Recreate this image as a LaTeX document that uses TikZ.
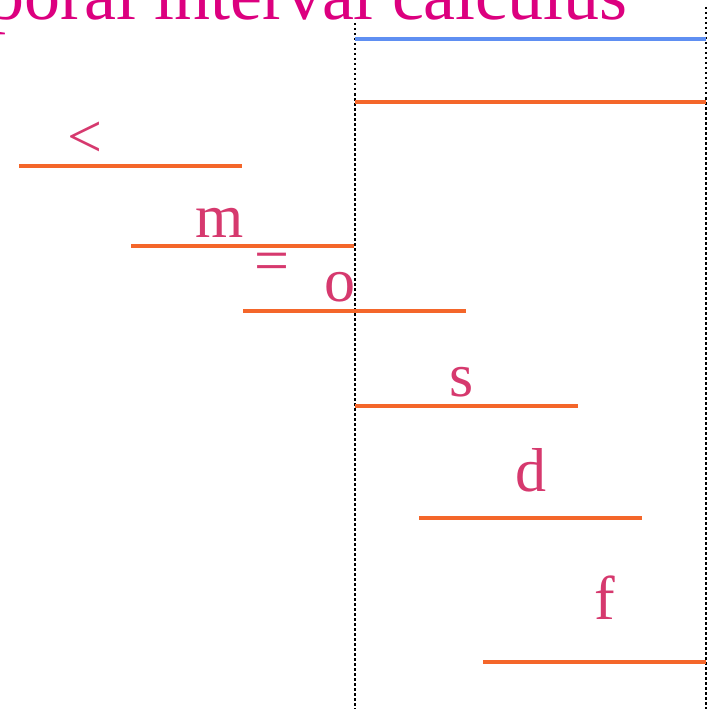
\documentclass[tikz,border=0pt]{standalone}
\usepackage{fontspec}
\setmainfont{Liberation Serif}
\usepackage{xcolor}

\definecolor{titlemag}{HTML}{DC007F}
\definecolor{labelrose}{HTML}{D6396E}
\definecolor{intorange}{HTML}{F4662A}
\definecolor{refblue}{HTML}{5F8FF2}

\begin{document}
\begin{tikzpicture}[x=1pt,y=-1pt,
  interval/.style={line width=4pt, draw=intorange},
  refline/.style={line width=4pt, draw=refblue},
  bound/.style={dash pattern=on 2.5pt off 2.5pt, line width=2.2pt, draw=black},
  rel/.style={text=labelrose, font=\fontsize{62}{62}\selectfont, inner sep=0pt, anchor=base}]

% ============================================================
% canvas
% ============================================================

\useasboundingbox (0,0) rectangle (715,709);
\clip (0,0) rectangle (715,709);

\node[text=titlemag, font=\fontsize{72}{72}\selectfont, inner sep=0pt, anchor=base east]
  (title) at (628,20) {Temporal interval calculus};

% ============================================================
% reference interval and its bounds
% ============================================================

\coordinate (lo) at (355,709);
\coordinate (hi) at (706,709);
\draw[bound] (355,23) -- (lo);
\draw[bound] (706,7) -- (hi);

\coordinate (ref-a) at (355,39);
\coordinate (ref-b) at (706,39);
\draw[refline] (ref-a) -- (ref-b);

\coordinate (eq-a) at (355,102);
\coordinate (eq-b) at (706,102);
\draw[interval] (eq-a) -- (eq-b);

% ============================================================
% relations
% ============================================================

\def\Len{223}

\foreach \name/\x/\y/\lx/\ly/\txt in {
    before/19/166/85/157/{<},
    meets/131/246/220/237/m,
    overlaps/243/311/340/301/o,
    starts/355/406/462/396/s,
    during/419/518/531/491/d,
    finishes/483/662/605/619/f} {
  \coordinate (\name-a) at (\x,\y);
  \coordinate (\name-b) at (\x+\Len,\y);
  \draw[interval] (\name-a) -- (\name-b);
  \node[rel] (\name-lbl) at (\lx,\ly) {\txt};
}

\node[rel] (equal-lbl) at (272,281) {=};

\end{tikzpicture}
\end{document}
